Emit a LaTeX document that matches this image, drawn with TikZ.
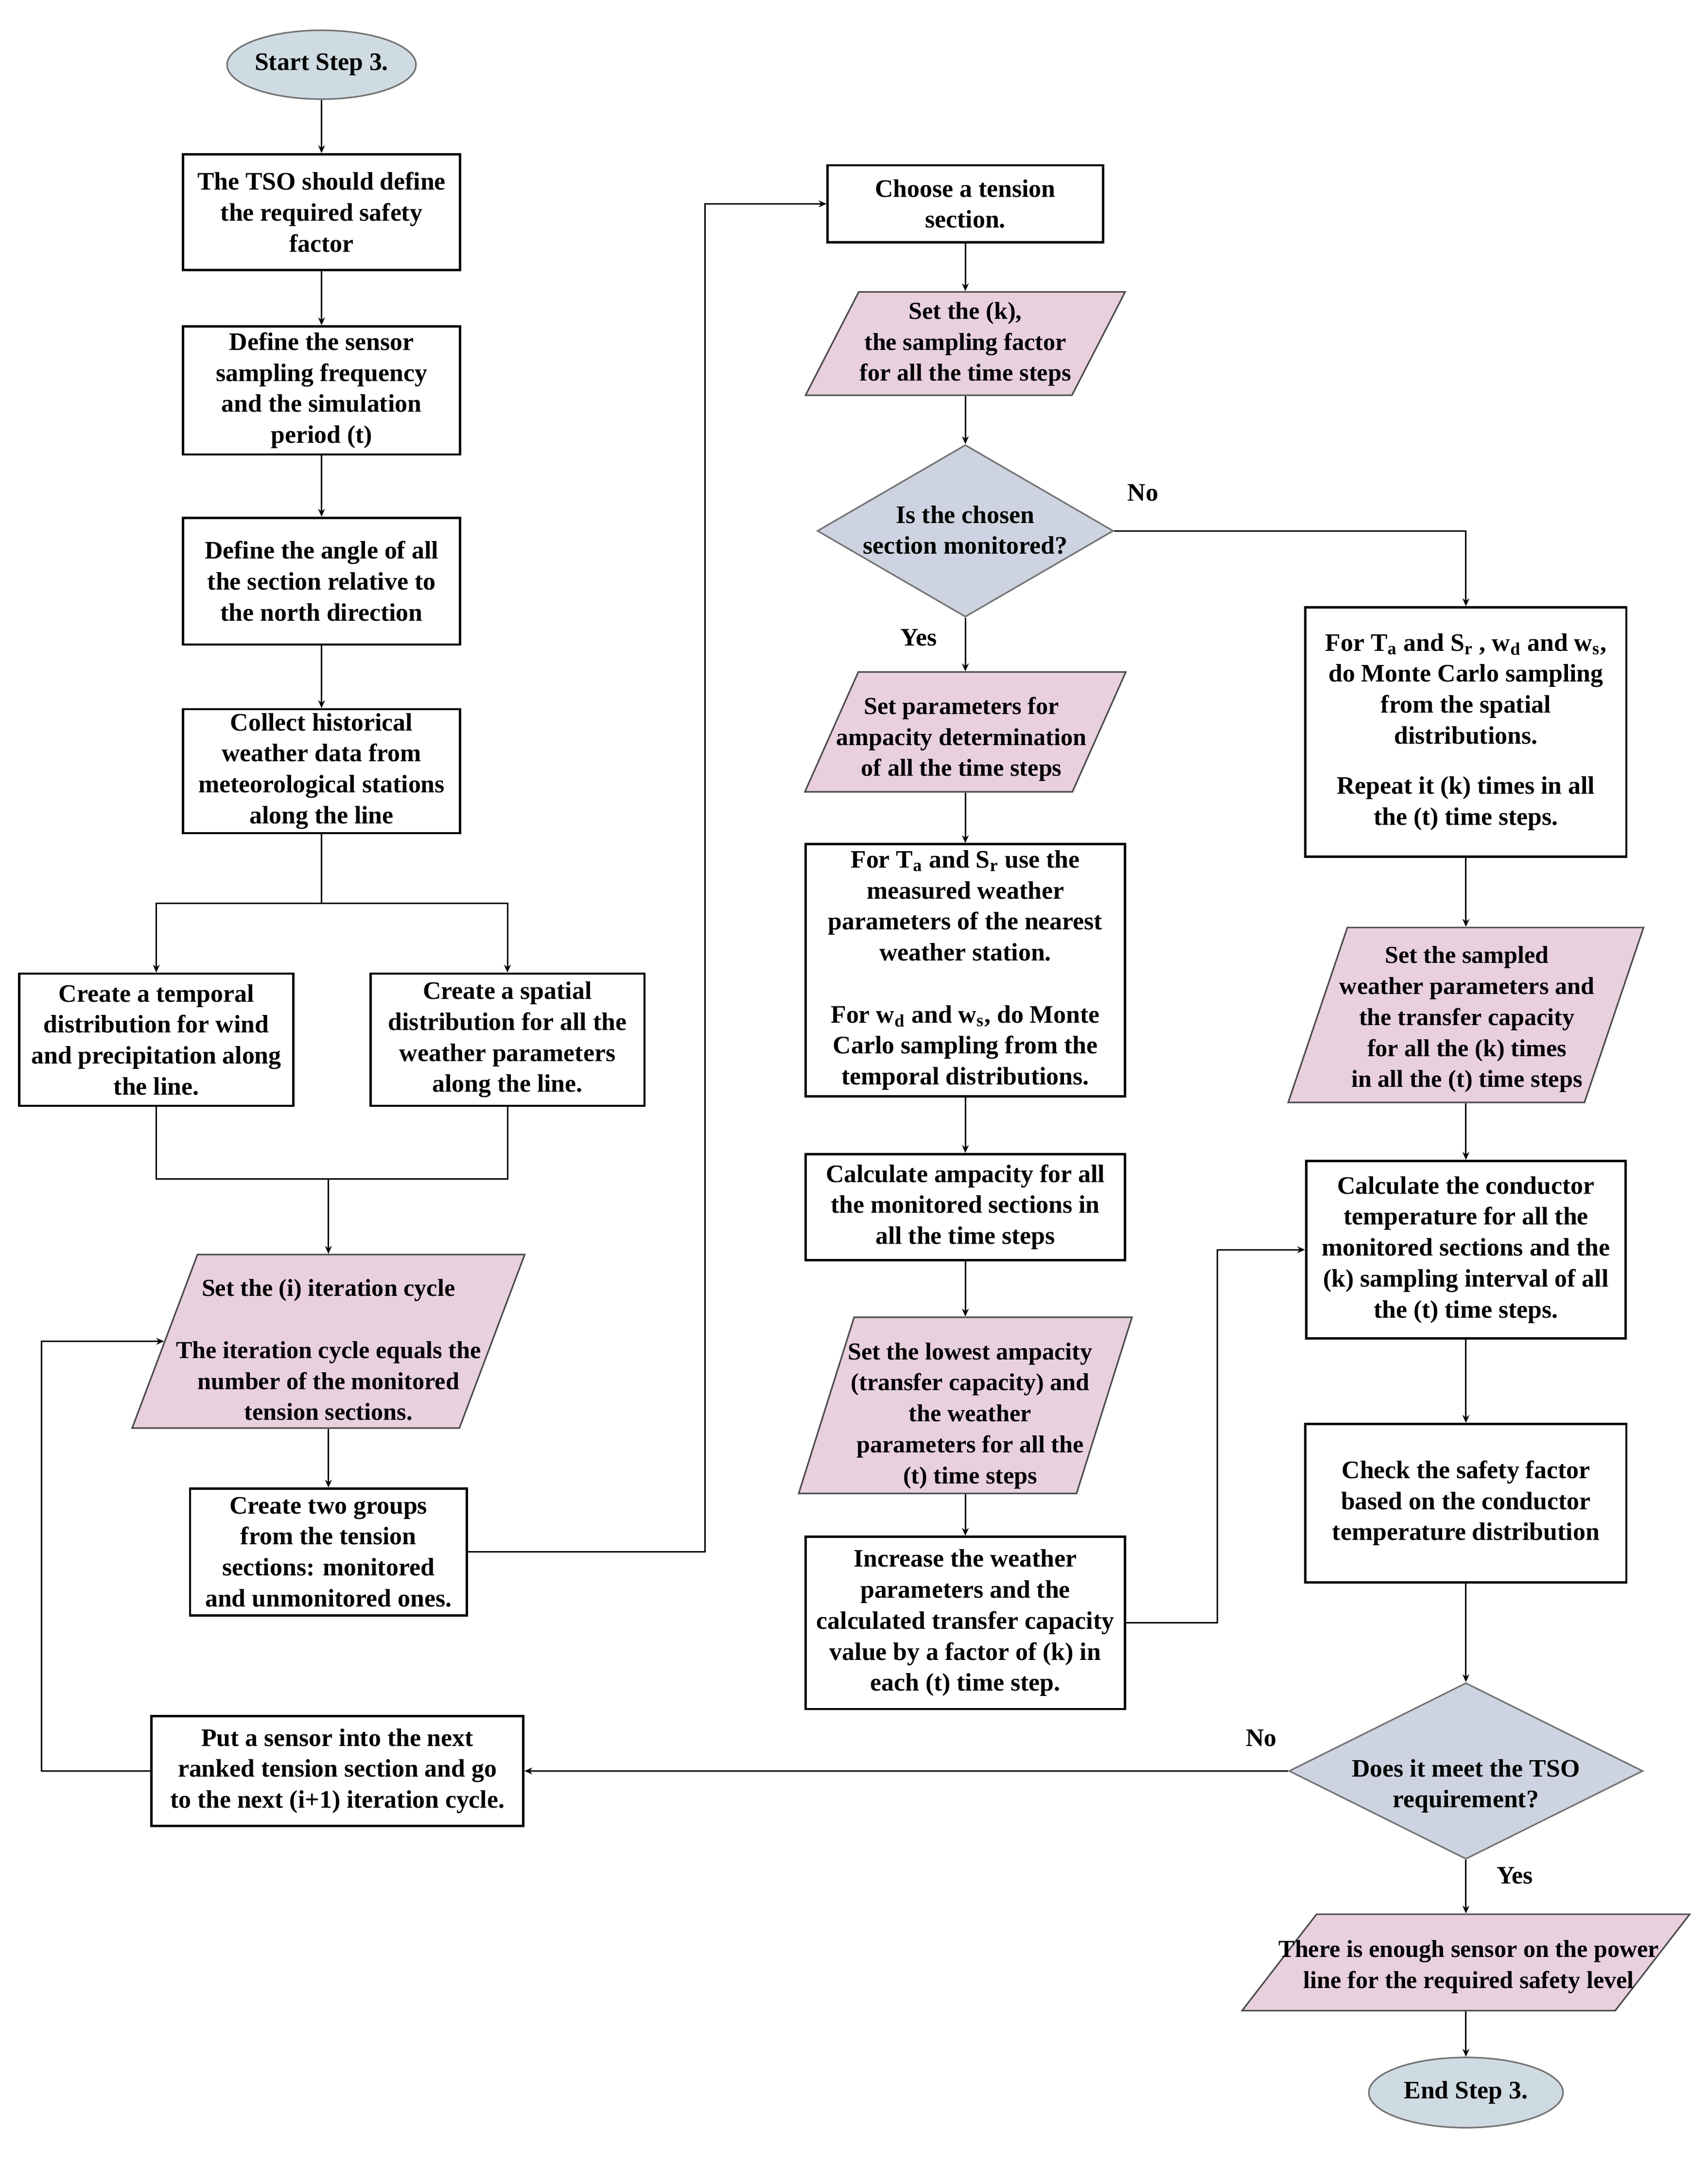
\documentclass[tikz,border=0pt]{standalone}
\usepackage{fontspec}
\setmainfont{Liberation Serif}
\usepackage{tikz}
\usetikzlibrary{shapes.geometric}
\usetikzlibrary{arrows.meta}

\definecolor{termfill}{HTML}{CFDBE2}
\definecolor{askfill}{HTML}{CDD3E0}
\definecolor{setfill}{HTML}{E8D0DE}

\newcommand{\pu}{0.025cm}
% text that does not widen the slanted shapes: [drop][shift right]{lines}
\NewDocumentCommand{\shapetext}{O{0pt} O{0pt} m}{\makebox[0pt]{\kern#2\kern#2\raisebox{\dimexpr-0.25em-#1\relax}[0pt][0pt]{\begin{tabular}{@{}c@{}}#3\end{tabular}}}}

\tikzset{
  txt/.style={font=\fontsize{13}{16}\selectfont\bfseries, align=center, inner sep=0pt},
  wh/.style 2 args={minimum width=#1*\pu, minimum height=#2*\pu},
  proc/.style={txt, rectangle, draw, line width=1.2pt},
  setbox/.style 2 args={txt, font=\fontsize{12.6}{16}\selectfont\bfseries,
    inner sep=1pt, trapezium, trapezium stretches=true,
    trapezium left angle=#1, trapezium right angle=#2,
    draw=black!70, line width=0.8pt, fill=setfill},
  ask/.style={txt, inner sep=1pt, diamond, draw=black!55, line width=0.8pt, fill=askfill},
  term/.style={txt, ellipse, draw=black!55, line width=0.8pt, fill=termfill},
  flow/.style={line width=0.75pt, -{Stealth[length=4pt,width=3.5pt]}},
  plain/.style={line width=0.75pt},
}

\begin{document}
\begin{tikzpicture}[x=\pu, y=-\pu]
    \useasboundingbox (0,0) rectangle (1240,1571.4);

    % left column
    \node[term, wh={137}{50}] (start) at (233.5,47) {Start Step 3.};
    \node[proc, wh={201}{84}] (tso) at (233.5,154)
      {The TSO should define\\the required safety\\factor};
    \node[proc, wh={201}{93}] (freq) at (233.5,283.5)
      {Define the sensor\\sampling frequency\\and the simulation\\period (t)};
    \node[proc, wh={201}{92}] (angle) at (233.5,422)
      {Define the angle of all\\the section relative to\\the north direction};
    \node[proc, wh={201}{90}] (hist) at (233.5,560)
      {Collect historical\\weather data from\\meteorological stations\\along the line};
    \node[proc, wh={199}{96}] (temporal) at (113.5,755)
      {Create a temporal\\distribution for wind\\and precipitation along\\the line.};
    \node[proc, wh={199}{96}] (spatial) at (368.5,755)
      {Create a spatial\\distribution for all the\\weather parameters\\along the line.};
    \node[setbox={76}{104}, wh={285}{126}] (iter) at (238.5,974)
      {\shapetext[5.4pt]{Set the (i) iteration cycle\\[16pt]
        The iteration cycle equals the\\number of the monitored\\tension sections.}};
    \node[proc, wh={201}{92}] (groups) at (238.5,1127)
      {Create two groups\\from the tension\\sections: monitored\\and unmonitored ones.};
    \node[proc, wh={270}{80}] (sensor) at (245,1286)
      {Put a sensor into the next\\ranked tension section and go\\to the next (i+1) iteration cycle.};

    % middle column
    \node[proc, wh={200}{56}] (choose) at (701,148) {Choose a tension\\section.};
    \node[setbox={76}{104}, wh={232}{75}] (kset) at (701,249.5)
      {\shapetext{Set the (k),\\the sampling factor\\for all the time steps}};
    \node[ask, wh={215}{125}] (mon) at (701,385.5)
      {\shapetext[0.5pt]{Is the chosen\\section monitored?}};
    \node[setbox={76}{104}, wh={233}{87}] (ampset) at (701,531.5)
      {\shapetext[3.5pt][-2pt]{Set parameters for\\ampacity determination\\of all the time steps}};
    \node[proc, wh={232}{183}] (measured) at (701,704.5)
      {For T\textsubscript{a} and S\textsubscript{r} use the\\measured weather\\parameters of the nearest\\weather station.\\[16pt]
       For w\textsubscript{d} and w\textsubscript{s}, do Monte\\Carlo sampling from the\\temporal distributions.};
    \node[proc, wh={232}{77}] (ampcalc) at (701,876.5)
      {Calculate ampacity for all\\the monitored sections in\\all the time steps};
    \node[setbox={76}{104}, wh={242}{128}] (lowest) at (701,1020.5)
      {\shapetext[5pt][2.5pt]{Set the lowest ampacity\\(transfer capacity) and\\the weather\\parameters for all the\\(t) time steps}};
    \node[proc, wh={232}{125}] (increase) at (701,1178.5)
      {Increase the weather\\parameters and the\\calculated transfer capacity\\value by a factor of (k) in\\each (t) time step.};

    % right column
    \node[proc, wh={233}{181}] (mcsample) at (1064.5,531.5)
      {For T\textsubscript{a} and S\textsubscript{r} , w\textsubscript{d} and w\textsubscript{s},\\do Monte Carlo sampling\\from the spatial\\distributions.\\[10pt]
       Repeat it (k) times in all\\the (t) time steps.};
    \node[setbox={76}{104}, wh={258}{127}] (sampled) at (1064.5,737)
      {\shapetext[2pt][0.5pt]{Set the sampled\\weather parameters and\\the transfer capacity\\for all the (k) times\\in all the (t) time steps}};
    \node[proc, wh={232}{129}] (condtemp) at (1064.5,907.5)
      {Calculate the conductor\\temperature for all the\\monitored sections and the\\(k) sampling interval of all\\the (t) time steps.};
    \node[proc, wh={233}{115}] (check) at (1064.5,1091.5)
      {Check the safety factor\\based on the conductor\\temperature distribution};
    \node[ask, wh={257}{128}] (meet) at (1064.5,1286)
      {\shapetext[7.5pt]{Does it meet the TSO\\requirement?}};
    \node[setbox={76}{104}, wh={325}{70}] (enough) at (1064.5,1425)
      {\shapetext[2pt][1.5pt]{There is enough sensor on the power\\line for the required safety level}};
    \node[term, wh={141}{51}] (finish) at (1064.5,1519.5) {End Step 3.};

    % branch labels
    \node[txt] (nomon) at (830,358) {No};
    \node[txt] (yesmon) at (667,463) {Yes};
    \node[txt] (nomeet) at (916,1262) {No};
    \node[txt] (yesmeet) at (1100,1362) {Yes};

    % connectors, left column
    \draw[flow] (start) -- (tso);
    \draw[flow] (tso) -- (freq);
    \draw[flow] (freq) -- (angle);
    \draw[flow] (angle) -- (hist);
    \coordinate (split) at (233.5,656);
    \draw[plain] (hist) -- (split);
    \draw[flow] (split) -| (temporal);
    \draw[flow] (split) -| (spatial);
    \coordinate (merge) at (238.5,856);
    \draw[plain] (temporal) |- (merge);
    \draw[plain] (spatial) |- (merge);
    \draw[flow] (merge) -- (iter);
    \draw[flow] (iter) -- (groups);
    \draw[flow] (groups.east) -- ++(172,0) |- (choose.west);
    \draw[flow] (sensor.west) -- ++(-79,0) |- (iter.west);

    % connectors, middle column
    \draw[flow] (choose) -- (kset);
    \draw[flow] (kset) -- (mon);
    \draw[flow] (mon.east) -| (mcsample.north);
    \draw[flow] (mon) -- (ampset);
    \draw[flow] (ampset) -- (measured);
    \draw[flow] (measured) -- (ampcalc);
    \draw[flow] (ampcalc) -- (lowest);
    \draw[flow] (lowest) -- (increase);
    \draw[flow] (increase.east) -- ++(66,0) |- (condtemp.west);

    % connectors, right column
    \draw[flow] (mcsample) -- (sampled);
    \draw[flow] (sampled) -- (condtemp);
    \draw[flow] (condtemp) -- (check);
    \draw[flow] (check) -- (meet);
    \draw[flow] (meet.west) -- (sensor.east);
    \draw[flow] (meet) -- (enough);
    \draw[flow] (enough) -- (finish);
\end{tikzpicture}
\end{document}
